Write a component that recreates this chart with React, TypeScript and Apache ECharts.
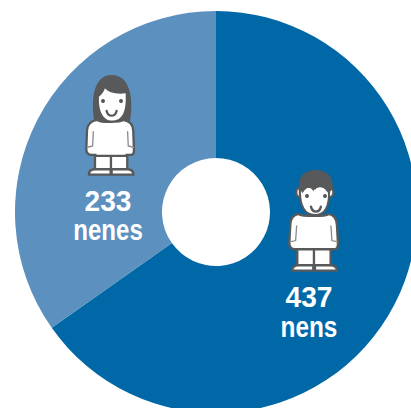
import React, { useEffect, useRef } from "react";
import * as echarts from "echarts";

const categories = ["nens", "nenes"];
const values = [437, 233];
const colors = ["#0068a6", "#5b90bf"];

const DARK = "#58595b";
const Z = 10;

// Pictogram outlines, drawn at 3x and scaled down
const girlHair = "M103,185 C92,120 100,45 155,45 C208,45 222,110 210,185 Z";
const girlFace = "M117,110 C125,105 132,95 135,85 C145,98 170,104 197,100 C200,150 190,182 157,182 C128,182 115,150 117,110 Z";
const girlBody = "M112,180 C92,183 82,192 81,212 L79,268 C79,280 85,285 95,285 L106,285 L106,325 L200,325 L200,285 L212,285 C220,285 223,278 222,268 L220,212 C219,192 208,183 190,180 C180,188 125,188 112,180 Z";
const girlLeg = "M105,288 L202,288 L202,328 L105,328 Z M153,288 L153,328";
const girlFeet = "M87,344 C87,332 95,328 105,328 L152,328 L152,344 Z M155,344 L155,328 L202,328 C212,328 220,332 220,344 Z";
const girlArms = "M100,215 L98,258 L82,262 M203,215 L205,258 L221,262";
const boyHair = "M118,85 C112,50 135,30 168,30 C205,30 222,55 218,88 L205,100 C195,85 180,70 165,90 C155,72 135,85 128,100 Z";
const boyFace = "M120,85 C130,85 150,72 160,88 C170,72 195,80 207,88 C210,140 195,165 165,165 C135,165 118,140 120,85 Z";
const boyEars = "M120,85 C105,80 105,112 120,112 Z M207,85 C225,80 225,112 207,112 Z";
const boyBody = "M115,162 C97,166 91,176 91,195 L88,250 C88,262 95,268 105,268 L112,268 L218,268 L224,268 C232,268 235,258 234,248 L231,195 C230,176 224,166 207,162 C195,170 128,170 115,162 Z";
const boyLeg = "M112,268 L212,268 L212,316 L112,316 Z M162,268 L162,316";
const boyFeet = "M97,332 C97,320 105,316 115,316 L160,316 L160,332 Z M165,332 L165,316 L210,316 C222,316 231,320 231,332 Z";
const boyArms = "M110,198 L107,242 L90,246 M213,198 L216,242 L233,246";
const girlSmile = "M140,153 C145,172 165,172 170,153";
const boySmile = "M153,140 C158,160 178,160 183,140";

const names = { girlHair, girlFace, girlBody, girlLeg, girlFeet, girlArms, boyHair, boyFace, boyEars, boyBody, boyLeg, boyFeet, boyArms, girlSmile, boySmile };
Object.entries(names).forEach(([k, d]) => {
  echarts.graphic.registerShape(k, echarts.graphic.extendPath(d, {}));
});

const filled = (type: string, x: number, y: number) => ({
  type, x, y, z: Z, scaleX: 1 / 3, scaleY: 1 / 3,
  style: { fill: "#ffffff", stroke: DARK, lineWidth: 7 },
});
const dark = (type: string, x: number, y: number) => ({
  type, x, y, z: Z, scaleX: 1 / 3, scaleY: 1 / 3,
  style: { fill: DARK },
});
const curve = (type: string, x: number, y: number, lineWidth = 7, stroke = DARK) => ({
  type, x, y, z: Z, scaleX: 1 / 3, scaleY: 1 / 3,
  style: { fill: "none", stroke, lineWidth, lineCap: "round" },
});
const dot = (cx: number, cy: number) => ({
  type: "circle", z: Z, shape: { cx, cy, r: 2 }, style: { fill: DARK },
});
const label = (text: string, x: number, y: number, sx: number) => ({
  type: "text", x, y, z: Z, scaleX: sx,
  style: {
    text, fill: "#ffffff", fontFamily: "'Liberation Sans'", fontWeight: "bold",
    fontSize: 29, align: "center", verticalAlign: "middle",
  },
});

export default function App() {
  const ref = useRef<HTMLDivElement>(null);
  useEffect(() => {
    document.body.style.margin = "0";
    document.body.style.background = "#ffffff";
    const chart = echarts.init(ref.current!, null, { renderer: "svg" });
    chart.setOption({
      animation: false,
      backgroundColor: "#ffffff",
      series: [{
        type: "pie",
        center: [216, 212],
        radius: [54, 201],
        startAngle: 90,
        clockwise: true,
        silent: true,
        label: { show: false },
        labelLine: { show: false },
        data: categories.map((name, i) => ({ name, value: values[i], itemStyle: { color: colors[i] } })),
      }],
      graphic: [
        dark("girlHair", 60, 60),
        filled("girlBody", 60, 60),
        filled("girlLeg", 60, 60),
        filled("girlFeet", 60, 60),
        curve("girlArms", 60, 60, 4, "#8a8c8e"),
        { type: "girlFace", x: 60, y: 60, z: Z, scaleX: 1 / 3, scaleY: 1 / 3, style: { fill: "#ffffff" } },
        curve("girlSmile", 60, 60),
        dot(103, 101), dot(121, 101),
        filled("boyEars", 260, 160),
        filled("boyBody", 260, 160),
        filled("boyLeg", 260, 160),
        filled("boyFeet", 260, 160),
        curve("boyArms", 260, 160, 4, "#8a8c8e"),
        { type: "boyFace", x: 260, y: 160, z: Z, scaleX: 1 / 3, scaleY: 1 / 3, style: { fill: "#ffffff", stroke: DARK, lineWidth: 6 } },
        dark("boyHair", 260, 160),
        curve("boySmile", 260, 160),
        dot(307, 196), dot(325, 196),
        label(String(values[1]), 108, 201, 0.97),
        label(categories[1], 108, 230, 0.83),
        label(String(values[0]), 309, 297, 0.97),
        label(categories[0], 309, 327, 0.84),
      ],
    });
    return () => chart.dispose();
  }, []);
  return <div ref={ref} style={{ width: 411, height: 408 }} />;
}
